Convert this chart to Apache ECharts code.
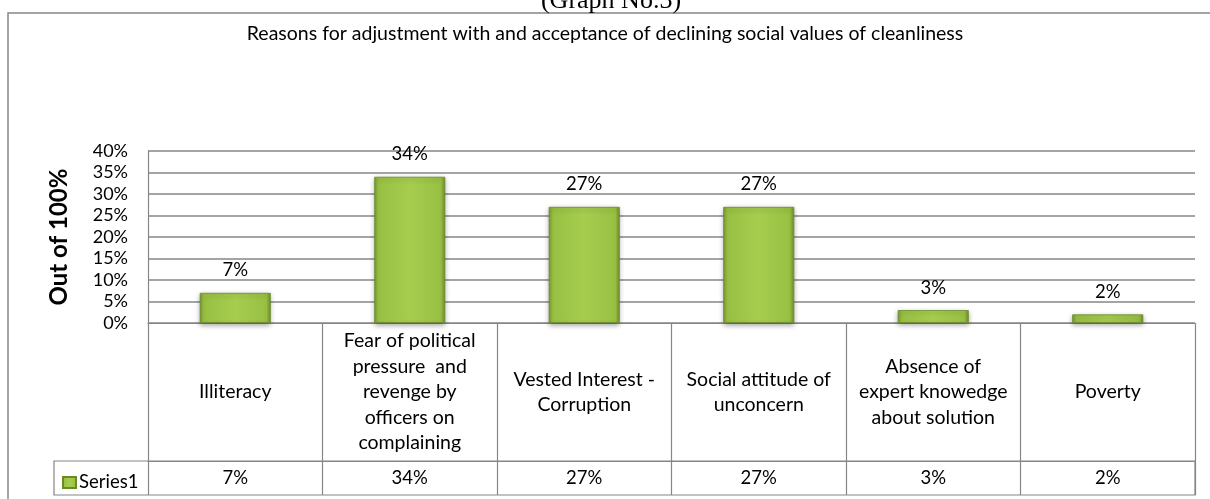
<!DOCTYPE html>
<html>
<head>
<meta charset="utf-8">
<script src="https://cdn.jsdelivr.net/npm/echarts@6/dist/echarts.min.js"></script>
<style>
html,body{margin:0;padding:0;background:#fff;}
#chart{width:1210px;height:499px;}
</style>
</head>
<body>
<div id="chart"></div>
<script>
var categories = [
  "Illiteracy",
  "Fear of political\npressure  and\nrevenge by\nofficers on\ncomplaining",
  "Vested Interest -\nCorruption",
  "Social attitude of\nunconcern",
  "Absence of\nexpert knowedge\nabout solution",
  "Poverty"
];
var seriesName = "Series1";
var values = [0.07, 0.34, 0.27, 0.27, 0.03, 0.02];
var yTicks = [0, 0.05, 0.10, 0.15, 0.20, 0.25, 0.30, 0.35, 0.40];
var titleText = "Reasons for adjustment with and acceptance of declining social values of cleanliness";
var headerText = "(Graph No.3)";
var yAxisTitle = "Out of 100%";

function pct(v){ return Math.round(v*100) + "%"; }

var FONT = "Lato";
var GREY = "#868686";
var barColor = {
  type: 'linear', x: 0, y: 0, x2: 1, y2: 0,
  colorStops: [
    {offset: 0, color: '#7a9c34'},
    {offset: 0.06, color: '#98c043'},
    {offset: 0.5, color: '#a6cd4e'},
    {offset: 0.94, color: '#98c043'},
    {offset: 1, color: '#6f8f2c'}
  ]
};

var chart = echarts.init(document.getElementById('chart'), null, {renderer: 'canvas'});
chart.setOption({
  animation: false,
  backgroundColor: '#fff',
  textStyle: {fontFamily: FONT, color: '#000'},
  title: {
    text: titleText,
    left: 'center',
    top: 19,
    textStyle: {fontFamily: FONT, fontSize: 19.5, fontWeight: 'normal', color: '#000'}
  },
  graphic: [
    {type: 'rect', z: -10, shape: {x: 8, y: 13, width: 1230, height: 520},
     style: {fill: '#fff', stroke: GREY, lineWidth: 1.5}},
    {type: 'text', x: 611, y: 14, z: 5,
     style: {text: headerText, font: '26px "Liberation Serif"', fill: '#000', align: 'center', verticalAlign: 'bottom'}},
    {type: 'rect', z: 1, shape: {x: 54, y: 461, width: 1141, height: 34},
     style: {fill: 'none', stroke: GREY, lineWidth: 1.2}}
  ],
  legend: {
    left: 57, top: 468,
    itemWidth: 13, itemHeight: 11,
    icon: 'rect',
    itemGap: 4,
    data: [seriesName],
    textStyle: {fontFamily: FONT, fontSize: 18.5, color: '#000', padding: [0,0,0,-2]}
  },
  grid: {left: 148, right: 15, top: 151, bottom: 176},
  xAxis: [
    {
      type: 'category',
      data: categories,
      position: 'bottom',
      axisLine: {show: true, lineStyle: {color: GREY, width: 1.2}},
      axisTick: {show: true, length: 172, interval: 0, lineStyle: {color: GREY, width: 1.2}},
      axisLabel: {
        interval: 0, margin: 69, verticalAlign: 'middle',
        fontFamily: FONT, fontSize: 19.5, lineHeight: 25.5, color: '#000', align: 'center'
      },
      splitLine: {show: false}
    },
    {
      type: 'category',
      data: categories,
      position: 'bottom',
      offset: 138,
      axisLine: {show: true, lineStyle: {color: GREY, width: 1.2}},
      axisTick: {show: false},
      axisLabel: {
        interval: 0, margin: 17, verticalAlign: 'middle',
        fontFamily: FONT, fontSize: 18.5, color: '#000',
        formatter: function(v, i){ return pct(values[i]); }
      }
    }
  ],
  yAxis: {
    type: 'value',
    min: yTicks[0], max: yTicks[yTicks.length-1], interval: 0.05,
    name: yAxisTitle,
    nameLocation: 'middle',
    nameGap: 77,
    nameRotate: 90,
    nameTextStyle: {fontFamily: FONT, fontSize: 24, fontWeight: 'bold', color: '#000'},
    axisLine: {show: true, lineStyle: {color: GREY, width: 1.2}},
    axisTick: {show: false},
    axisLabel: {
      margin: 20, fontFamily: FONT, fontSize: 18, color: '#000',
      formatter: function(v){ return pct(v); }
    },
    splitLine: {show: true, lineStyle: {color: GREY, width: 1.5}}
  },
  series: [{
    name: seriesName,
    type: 'bar',
    data: values,
    barWidth: 71,
    itemStyle: {
      color: barColor,
      borderColor: '#6a8a28',
      borderWidth: 0.8,
      shadowBlur: 5,
      shadowColor: 'rgba(0,0,0,0.35)',
      shadowOffsetY: 2
    },
    label: {
      show: true, position: 'top', distance: 13,
      fontFamily: FONT, fontSize: 18.5, color: '#000',
      formatter: function(p){ return pct(p.value); }
    }
  }]
});
</script>
</body>
</html>
